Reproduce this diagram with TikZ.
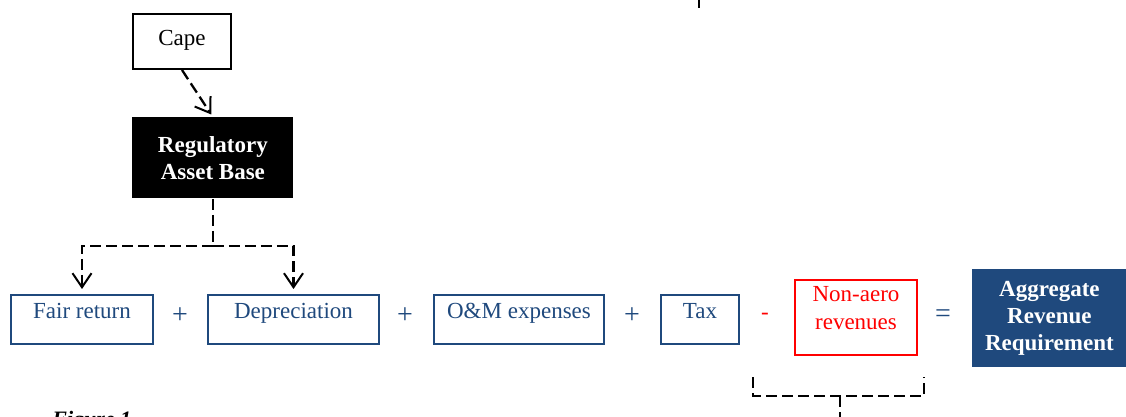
\documentclass[tikz,border=0pt]{standalone}
\usepackage{fontspec}
\setmainfont{Liberation Serif}
\usetikzlibrary{arrows.meta,calc}
\definecolor{dblue}{HTML}{1F497D}
\definecolor{nred}{HTML}{FF0000}
\begin{document}
\begin{tikzpicture}[x=0.5pt,y=-0.5pt,
  every node/.style={font=\fontsize{11.5}{13.5}\selectfont, inner sep=0pt, anchor=north west},
  bluebox/.style={draw=dblue, line width=1pt, text=dblue, text height=11.5pt, text depth=13pt, align=center},
  capebox/.style={draw=black, line width=1pt, text height=16pt, text depth=11.5pt, align=center},
  rabbox/.style={fill=black, text=white, font=\bfseries\fontsize{11.5}{13.5}\selectfont, align=center},
  nabox/.style={draw=nred, line width=1pt, text=nred, align=center, font=\fontsize{11.5}{14}\selectfont},
  arrbox/.style={fill=dblue, text=white, font=\bfseries\fontsize{11.5}{13.3}\selectfont, align=center},
  opnode/.style={anchor=center, font=\fontsize{14}{16}\selectfont},
  dashline/.style={draw=black, line width=1.15pt, dash pattern=on 5.5pt off 2.5pt},
  tipline/.style={dashline, -{Straight Barb[length=7pt,width=9.5pt,line width=1pt]}}
]
\useasboundingbox (0,0) rectangle (1126,417);
\clip (0,0) rectangle (1126,417);

% boxes
\node[capebox, minimum width=49pt] (cape) at (132,13) {Cape};
\node[rabbox, minimum width=80.5pt, minimum height=40.5pt] (rab) at (132,117) {Regulatory\\Asset Base};
\node[bluebox, minimum width=71pt] (fair) at (10,294) {Fair return};
\node[bluebox, minimum width=85.5pt] (dep) at (207,294) {Depreciation};
\node[bluebox, minimum width=85pt] (om) at (433,294) {O\&M expenses};
\node[bluebox, minimum width=39pt] (tax) at (660,294) {Tax};
\node[nabox, minimum width=61pt, minimum height=37.5pt] (na) at (794,279) {Non-aero\\revenues\\[-4pt]};
\node[arrbox, minimum width=77pt, minimum height=49pt] (arr) at (972,269) {Aggregate\\Revenue\\Requirement};

% operators
\node[opnode, text=dblue] (p1) at (180,316) {+};
\node[opnode, text=dblue] (p2) at (405,316) {+};
\node[opnode, text=dblue] (p3) at (632,316) {+};
\node[anchor=center, text=nred] (mn) at (765,316) {-};
\node[opnode, text=dblue] (eq) at (943,316) {=};

% connectors
\draw[tipline, shorten >=1.5pt] (cape.south) -- (rab.north);
\coordinate (jn) at ($(rab.south)+(0,47)$);
\draw[dashline] (rab.south) -- (jn);
\draw[tipline, shorten >=2.5pt] (jn) -| (fair.north);
\draw[tipline, shorten >=2.5pt] (jn) -| (dep.north);

% bracket under non-aero revenues
\coordinate (bl) at (753,377);
\coordinate (br) at (924,377);
\coordinate (bm) at (840,396);
\coordinate (be) at (840,420);
\draw[dashline] (bl) |- (bm) -| (br);
\draw[dashline] (bm) -- (be);

% cropped page remnants
\coordinate (t1) at (699,-2);
\coordinate (t2) at (699,8);
\draw[line width=1pt] (t1) -- (t2);
\node[anchor=base west, font=\bfseries\itshape\fontsize{11}{13}\selectfont] (fig) at (52,426) {Figure 1};
\end{tikzpicture}
\end{document}
